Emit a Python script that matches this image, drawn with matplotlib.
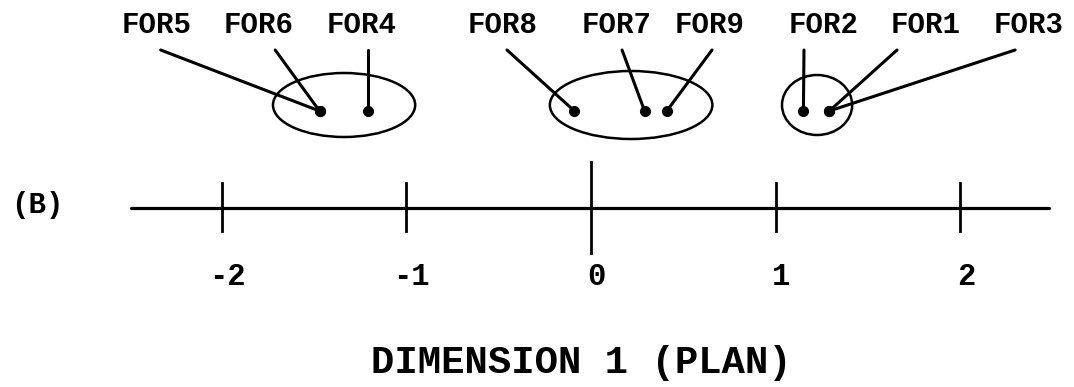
import matplotlib
matplotlib.use("Agg")
import matplotlib.pyplot as plt
from matplotlib.patches import Ellipse

# ---- data ----
labels = ["FOR5", "FOR6", "FOR4", "FOR8", "FOR7", "FOR9", "FOR2", "FOR1", "FOR3"]
dim1 = [-1.47, -1.47, -1.21, -0.09, 0.29, 0.41, 1.15, 1.29, 1.29]
label_x = [-2.35, -1.80, -1.24, -0.48, 0.14, 0.64, 1.26, 1.81, 2.37]
leader_x = [-2.33, -1.71, -1.21, -0.455, 0.168, 0.655, 1.153, 1.657, 2.296]
clusters = [["FOR5", "FOR6", "FOR4"], ["FOR8", "FOR7", "FOR9"], ["FOR2", "FOR1", "FOR3"]]
cluster_center = [-1.337, 0.217, 1.224]
cluster_width = [0.77, 0.88, 0.38]
tick_values = [-2, -1, 0, 1, 2]
tick_labels = ["-2", "-1", "0", "1", "2"]
axis_title = "DIMENSION 1 (PLAN)"
panel_label = "(B)"

FONT = "Liberation Mono"

fig = plt.figure(figsize=(10.74, 3.87), dpi=100)
ax = fig.add_axes([0, 0, 1, 1])
ax.set_xlim(-3.200, 2.615)
ax.set_ylim(387, 0)
ax.axis("off")

AXIS_Y = 208
PT_Y = 111
LABEL_Y = 25
LEAD_Y = 50

# axis line
ax.plot([-2.49, 2.48], [AXIS_Y, AXIS_Y], color="black", lw=2.3, solid_capstyle="round")
for v, t in zip(tick_values, tick_labels):
    if v == 0:
        ax.plot([v, v], [162, 253], color="black", lw=2.0)
    else:
        ax.plot([v, v], [183, 231], color="black", lw=2.0)
    ax.text(v + 0.03, 277, t, ha="center", va="center", fontsize=22,
            fontweight="bold", family=FONT)

ax.text(-0.05, 363, axis_title, ha="center", va="center", fontsize=28,
        fontweight="bold", family=FONT)
ax.text(-3.00, 205, panel_label, ha="center", va="center", fontsize=21,
        fontweight="bold", family=FONT)

# points, leaders, labels
for lab, x, lx, ldx in zip(labels, dim1, label_x, leader_x):
    ax.plot([ldx, x], [LEAD_Y, PT_Y], color="black", lw=2.2, solid_capstyle="round")
    ax.plot([x], [PT_Y], "o", color="black", ms=7)
    ax.text(lx, LABEL_Y, lab, ha="center", va="center", fontsize=21,
            fontweight="bold", family=FONT)

# cluster ellipses
heights = [64, 68, 60]
for c, w, h in zip(cluster_center, cluster_width, heights):
    ax.add_patch(Ellipse((c, 105), w, h, fill=False, ec="black", lw=1.8))

fig.savefig("out.png", dpi=100, facecolor="white")
